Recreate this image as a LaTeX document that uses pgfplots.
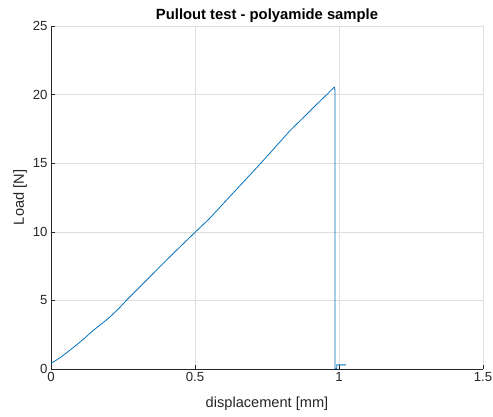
\documentclass[border=0pt]{standalone}
\usepackage{pgfplots}
\pgfplotsset{compat=1.18}
\usepackage{fontspec}
\setmainfont{Liberation Sans}
\definecolor{mblue}{rgb}{0,0.447,0.741}
\definecolor{axgray}{rgb}{0.15,0.15,0.15}
\begin{document}
\begin{tikzpicture}
\begin{axis}[name=ax, scale only axis, width=432pt, height=343pt,
 xmin=0,xmax=1.5,ymin=0,ymax=25,
 xtick={0,0.5,1,1.5}, ytick={0,5,10,15,20,25},
 xticklabels={0,0.5,1,1.5},
 axis x line*=bottom, axis y line*=left,
 axis line style={axgray, line width=0.5pt, -},
 tick style={axgray, line width=0.5pt}, tick align=inside, major tick length=4pt,
 grid=major, grid style={black!13, line width=0.5pt},
 ticklabel style={font=\fontsize{13.2}{15}\selectfont, text=axgray},
 /pgf/number format/assume math mode=true,
 xlabel={displacement [mm]}, ylabel={Load [N]},
 label style={font=\fontsize{14.6}{17}\selectfont, text=axgray},
 xlabel style={at={(axis description cs:0.5,-0.102)}, anchor=center},
 ylabel style={at={(axis description cs:-0.0718,0.5)}, anchor=center, rotate=0},
 title={Pullout test - polyamide sample},
 title style={font=\bfseries\fontsize{14.8}{17}\selectfont, at={(axis description cs:0.5,1.012)}, anchor=center},
]
\addplot[mblue, line width=0.8pt, line join=round] coordinates {
(0,0.42)(0.015,0.6)(0.03,0.8)(0.048,1.08)(0.066,1.38)(0.083,1.66)(0.1,1.95)(0.118,2.27)(0.135,2.6)
(0.152,2.9)(0.17,3.2)(0.188,3.5)(0.205,3.8)(0.235,4.4)
(0.263,5.03)(0.3,5.8)(0.344,6.73)(0.385,7.6)(0.425,8.43)(0.465,9.25)
(0.502,10.0)(0.552,11.0)(0.598,12.05)(0.66,13.45)(0.726,14.94)(0.78,16.2)
(0.83,17.38)(0.88,18.4)(0.923,19.3)(0.955,19.95)(0.984,20.55)
(0.9862,20.3)(0.9862,0.02)(0.992,0.02)(0.992,0.3)(1.024,0.3)
};
\end{axis}
\pgfresetboundingbox
\path (ax.south west) ++(-51pt,-48pt) rectangle ([shift={(10pt,26pt)}]ax.north east);
\end{tikzpicture}
\end{document}
